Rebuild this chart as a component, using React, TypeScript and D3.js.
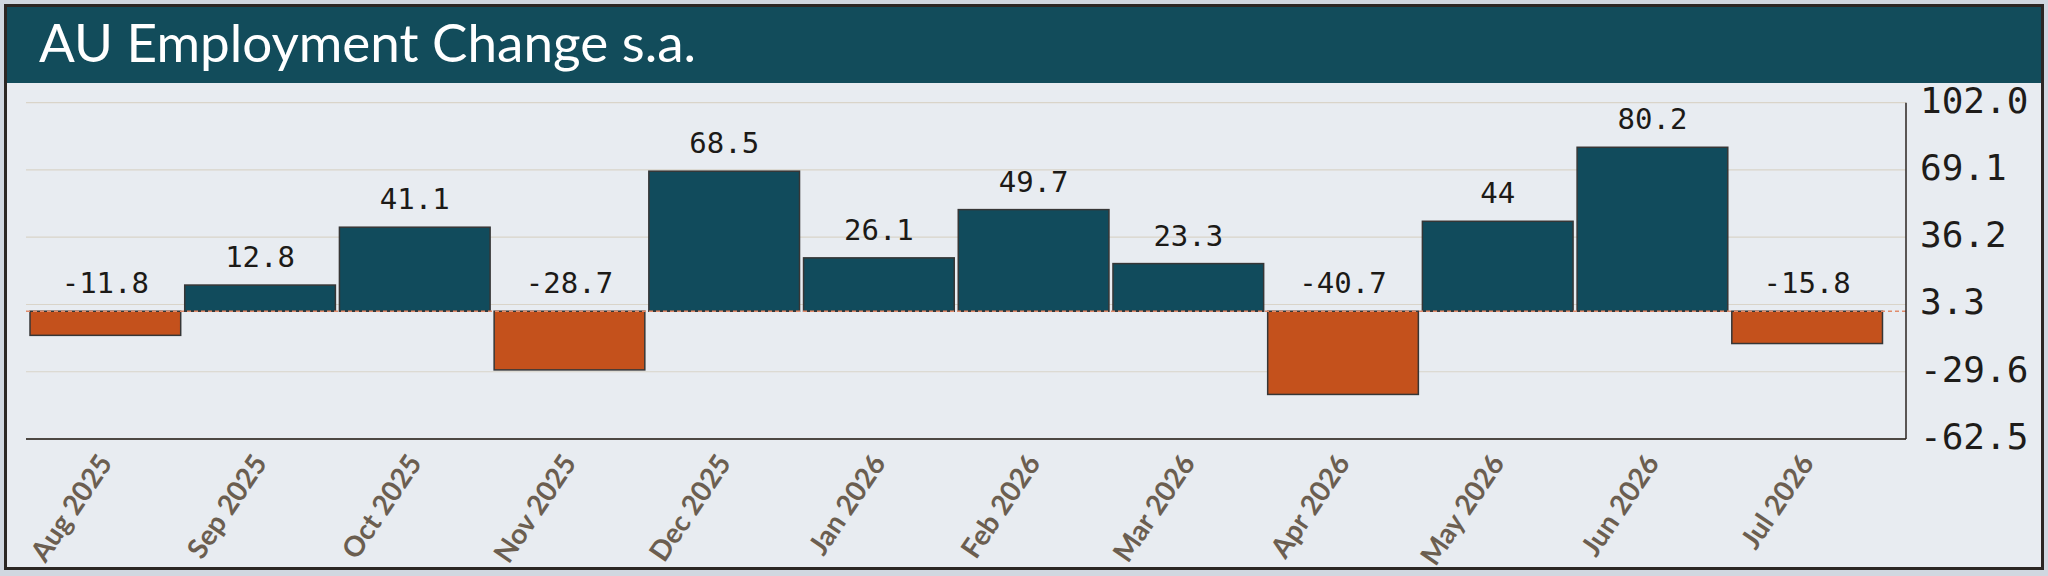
import React, { useEffect, useRef } from "react";
import * as d3 from "d3";

const months: string[] = [
  "Aug 2025", "Sep 2025", "Oct 2025", "Nov 2025", "Dec 2025", "Jan 2026",
  "Feb 2026", "Mar 2026", "Apr 2026", "May 2026", "Jun 2026", "Jul 2026",
];
const changes: number[] = [-11.8, 12.8, 41.1, -28.7, 68.5, 26.1, 49.7, 23.3, -40.7, 44, 80.2, -15.8];
const yTicks: number[] = [102.0, 69.1, 36.2, 3.3, -29.6, -62.5];
const title = "AU Employment Change s.a.";

const W = 2048;
const H = 576;

const App: React.FC = () => {
  const svgRef = useRef<SVGSVGElement | null>(null);

  useEffect(() => {
    document.body.style.margin = "0";
    if (!svgRef.current) return;
    const svg = d3.select(svgRef.current);
    svg.selectAll("*").remove();

    const plot = { left: 26, right: 1906, top: 102.7, bottom: 439 };

    // page + frame
    svg.append("rect").attr("width", W).attr("height", H).attr("fill", "#d0d7e0");
    svg.append("rect")
      .attr("x", 5.5).attr("y", 5.5)
      .attr("width", 2037).attr("height", 563)
      .attr("fill", "#e8ecf1")
      .attr("stroke", "#2b2724")
      .attr("stroke-width", 3);
    svg.append("rect")
      .attr("x", 7).attr("y", 7)
      .attr("width", 2034).attr("height", 76)
      .attr("fill", "#124c5b");
    svg.append("text")
      .attr("x", 39).attr("y", 62)
      .attr("fill", "#ffffff")
      .attr("font-family", "Lato, 'Open Sans', sans-serif")
      .attr("font-size", 53)
      .text(title);

    const x = d3.scaleBand<string>()
      .domain(months)
      .range([28, 1884.5])
      .paddingInner(0.026)
      .paddingOuter(0.013);

    const y = d3.scaleLinear()
      .domain([yTicks[yTicks.length - 1], yTicks[0]])
      .range([plot.bottom, plot.top]);

    const g = svg.append("g");

    // grid
    g.selectAll(".grid")
      .data(yTicks.slice(0, -1))
      .enter()
      .append("line")
      .attr("x1", plot.left).attr("x2", plot.right)
      .attr("y1", (d) => y(d)).attr("y2", (d) => y(d))
      .attr("stroke", "#d9d4c9")
      .attr("stroke-width", 1.2);

    // bars
    g.selectAll(".bar")
      .data(changes)
      .enter()
      .append("rect")
      .attr("x", (_, i) => x(months[i])!)
      .attr("width", x.bandwidth())
      .attr("y", (d) => y(Math.max(0, d)))
      .attr("height", (d) => Math.abs(y(d) - y(0)))
      .attr("fill", (d) => (d >= 0 ? "#114b5c" : "#c4511c"))
      .attr("stroke", "#363636")
      .attr("stroke-width", 1.5);

    // zero line
    g.append("line")
      .attr("x1", plot.left).attr("x2", plot.right)
      .attr("y1", y(0)).attr("y2", y(0))
      .attr("stroke", "#e08c6c")
      .attr("stroke-width", 1.3)
      .attr("stroke-dasharray", "4 3");

    // value labels
    g.selectAll(".val")
      .data(changes)
      .enter()
      .append("text")
      .attr("x", (_, i) => x(months[i])! + x.bandwidth() / 2)
      .attr("y", (d) => y(Math.max(0, d)) - 18)
      .attr("text-anchor", "middle")
      .attr("fill", "#1c1a17")
      .attr("font-family", "'DejaVu Sans Mono', monospace")
      .attr("font-size", 29)
      .text((d) => String(d));

    // axes lines
    g.append("line")
      .attr("x1", plot.left).attr("x2", plot.right)
      .attr("y1", plot.bottom).attr("y2", plot.bottom)
      .attr("stroke", "#4d4843")
      .attr("stroke-width", 2);
    g.append("line")
      .attr("x1", plot.right).attr("x2", plot.right)
      .attr("y1", plot.top).attr("y2", plot.bottom)
      .attr("stroke", "#2b2520")
      .attr("stroke-width", 1.5);

    // y tick labels
    g.selectAll(".ytick")
      .data(yTicks)
      .enter()
      .append("text")
      .attr("x", 1920)
      .attr("y", (d) => y(d))
      .attr("dominant-baseline", "middle")
      .attr("fill", "#1e1c1a")
      .attr("font-family", "'DejaVu Sans Mono', monospace")
      .attr("font-size", 36)
      .text((d) => d.toFixed(1));

    // x tick labels
    g.selectAll(".xtick")
      .data(months)
      .enter()
      .append("text")
      .attr("transform", (d) => `translate(${x(d)! + x.bandwidth() / 2 + 2}, 459) rotate(-56)`)
      .attr("text-anchor", "end")
      .attr("dominant-baseline", "middle")
      .attr("fill", "#6b5e50")
      .attr("font-family", "Lato, 'Open Sans', sans-serif")
      .attr("font-weight", 700)
      .attr("font-size", 28)
      .text((d) => d);
  }, []);

  return <svg ref={svgRef} width={W} height={H} style={{ display: "block" }}></svg>;
};

export default App;
